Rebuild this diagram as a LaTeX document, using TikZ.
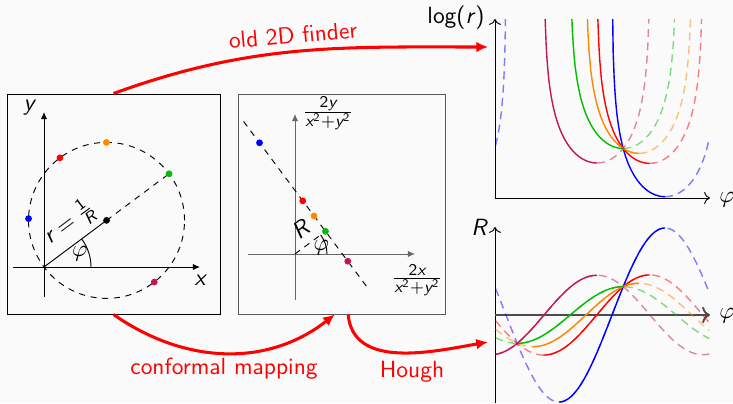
\documentclass[tikz,border=0pt]{standalone}
\usepackage{amsmath}
\usepackage{tikz}
\usetikzlibrary{arrows.meta}
\renewcommand{\familydefault}{\sfdefault}
\definecolor{slidebg}{RGB}{250,250,250}
\definecolor{hgreen}{RGB}{0,190,0}
\definecolor{horange}{RGB}{255,135,0}
\definecolor{hpurple}{RGB}{195,20,85}
\newcommand{\sfv}[1]{\textit{#1}}
\newcommand{\sfn}[1]{\textnormal{#1}}

\begin{document}
\begin{tikzpicture}[x=0.015cm, y=0.015cm,
        every node/.style={font=\sffamily},
        panel/.style={draw, line width=0.4pt, inner sep=0pt, minimum height=3.3cm},
        ax/.style={-{Latex[length=3pt,width=2.6pt]}},
        circ/.style={dash pattern=on 2.6pt off 2.4pt},
        dot/.style={circle, inner sep=0pt, minimum size=2.9pt},
        curve/.style={line width=0.6pt},
        weak/.style={line width=0.6pt, opacity=0.5, dash pattern=on 3.4pt off 2.3pt},
        redarrow/.style={red, line width=1.3pt, -{Latex[length=5pt,width=4.6pt]}},
        redtext/.style={text=red}]
    \useasboundingbox (0,0) rectangle (733,403);
    \fill[slidebg] (0,0) rectangle (733,403);

    % circle in x-y space
    \node[panel, minimum width=3.195cm] (pos) at (113.5,199) {};
    \coordinate (o1) at (44,136);
    \coordinate (c1) at ([shift={(36.7:78)}]o1);
    \draw[ax] (13,136) -- (200,136);
    \draw[ax] (44,106) -- (44,291);
    \node (xa) at (200,123) {$\sfv{x}$};
    \node (ya) at (29,295) {$\sfv{y}$};
    \draw[circ] (c1) circle[radius=78];
    \draw (o1) -- (c1) node[pos=0.6, above=-1pt, sloped] (rlab) {$\sfv{r}=\frac{\sfn{1}}{\sfv{R}}$};
    \draw[circ] (c1) -- ([shift={(36.7:78)}]c1);
    \draw ([shift={(0:47)}]o1) arc[start angle=0, end angle=36.7, radius=47];
    \node (phi1) at ([shift={(20:38)}]o1) {$\varphi$};
    \node[dot, fill=black] (cdot) at (c1) {};

    % straight line in conformal space
    \node[panel, draw=black!65, minimum width=3.105cm] (conf) at (341.5,199) {};
    \coordinate (o2) at (295,149);
    \coordinate (foot) at ([shift={(36.7:38)}]o2);
    \draw[ax, black!60] (248,149) -- (415,149);
    \draw[ax, black!60] (295,103) -- (295,289);
    \node (ua) at (417,123) {$\frac{\sfn{2}\sfv{x}}{\sfv{x}^{\sfn{2}}+\sfv{y}^{\sfn{2}}}$};
    \node (va) at (328,290) {$\frac{\sfn{2}\sfv{y}}{\sfv{x}^{\sfn{2}}+\sfv{y}^{\sfn{2}}}$};
    \draw[circ] ([shift={(126.7:137)}]foot) -- ([shift={(-53.3:70)}]foot);
    \draw[circ] (o2) -- (foot) node[midway, above, sloped] (Rlab) {$\sfv{R}$};
    \draw ([shift={(0:32)}]o2) arc[start angle=0, end angle=36.7, radius=32];
    \node (phi2) at ([shift={(14:27)}]o2) {$\varphi$};

    % hits in both spaces
    \foreach \th/\col [count=\i] in {107.7/blue, 81.7/red, 63.4/horange, 36.7/hgreen, -7.8/hpurple} {
        \pgfmathsetmacro\rh{156*cos(\th-36.7)}
        \pgfmathsetmacro\uv{5928/\rh}
        \node[dot, fill=\col] (hit\i) at ([shift={(\th:\rh)}]o1) {};
        \node[dot, fill=\col] (chit\i) at ([shift={(\th:\uv)}]o2) {};
    }

    % log(r) over phi
    \draw[->] (495,205) -- (710,205);
    \draw[->] (495,205) -- (495,384);
    \node (lr) at (456,385) {log(\textit{r})};
    \node (phi3) at (727,203) {$\varphi$};
    \begin{scope}
        \clip (495,195) rectangle (711,384);
        \foreach \th/\col in {107.7/blue, 81.7/red, 63.4/horange, 36.7/hgreen, -7.8/hpurple} {
            \pgfmathsetmacro\rh{156*cos(\th-36.7)}
            \pgfmathsetmacro\lo{\th-89.5}
            \pgfmathsetmacro\hi{min(183,\th+89.5)}
            \draw[\col, weak] plot[domain=\th:\hi, samples=60] ({601.6+0.589*\x},{37.4+43*ln(\rh)-43*ln(cos(\x-\th))});
            \draw[\col, curve] plot[domain=\lo:\th, samples=60] ({601.6+0.589*\x},{37.4+43*ln(\rh)-43*ln(cos(\x-\th))});
        }
        \pgfmathsetmacro\rb{156*cos(107.7-36.7)}
        \draw[blue, weak] plot[domain=-180:-162.8, samples=30] ({601.6+0.589*\x},{37.4+43*ln(\rb)-43*ln(cos(\x-107.7))});
    \end{scope}

    % R over phi
    \draw[->] (495,0) -- (495,176);
    \draw[->, black!70, line width=0.8pt] (495,88) -- (710,88);
    \node (lR) at (479,176) {$\sfv{R}$};
    \node (phi4) at (727,87) {$\varphi$};
    \begin{scope}
        \clip (495,0) rectangle (711,180);
        \foreach \th/\col in {107.7/blue, 81.7/red, 63.4/horange, 36.7/hgreen, -7.8/hpurple} {
            \pgfmathsetmacro\rh{156*cos(\th-36.7)}
            \pgfmathsetmacro\amp{4420/\rh}
            \pgfmathsetmacro\blo{max(-180,\th-180)}
            \draw[\col, weak] plot[domain=-180:183, samples=100] ({601.6+0.589*\x},{88+\amp*cos(\x-\th)});
            \draw[\col, curve] plot[domain=\blo:\th, samples=60] ({601.6+0.589*\x},{88+\amp*cos(\x-\th)});
        }
    \end{scope}

    % mappings
    \coordinate (fin) at (488,356);
    \coordinate (hou) at (488,61);
    \draw[redarrow] (pos.north) to[out=20, in=180] (fin);
    \node[redtext, rotate=5] (lfin) at (293,368) {old 2D finder};
    \draw[redarrow] (pos.south) to[out=-35, in=-142] ([xshift=-0.1cm]conf.south);
    \node[redtext] (lconf) at (224,34) {conformal mapping};
    \draw[redarrow] ([xshift=0.1cm]conf.south) to[out=-85, in=190] (hou);
    \node[redtext] (lhough) at (412,31) {Hough};
\end{tikzpicture}
\end{document}
